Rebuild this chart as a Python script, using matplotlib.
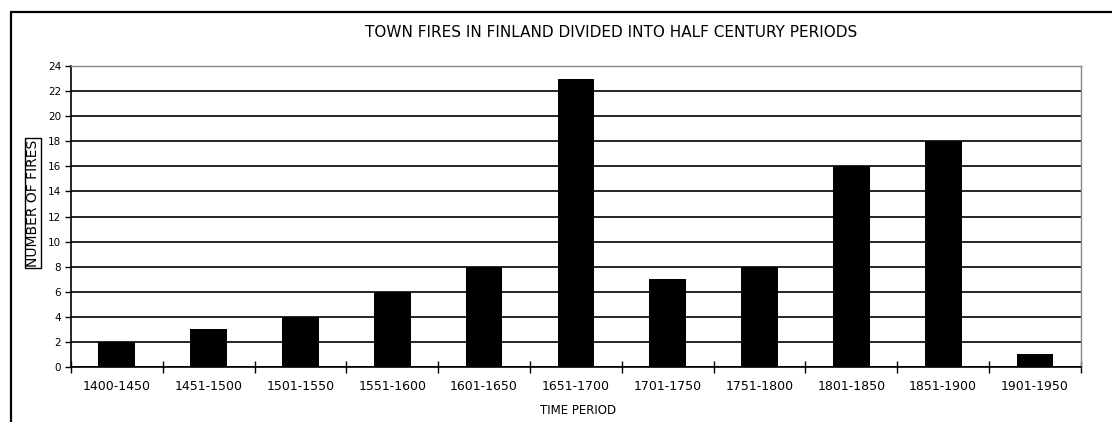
import matplotlib
matplotlib.use('Agg')
from matplotlib import pyplot as plt
from matplotlib.patches import Rectangle

periods = ['1400-1450', '1451-1500', '1501-1550', '1551-1600', '1601-1650', '1651-1700',
           '1701-1750', '1751-1800', '1801-1850', '1851-1900', '1901-1950']
fires = [2, 3, 4, 6, 8, 23, 7, 8, 16, 18, 1]

fig = plt.figure(figsize=(11.12, 4.22), dpi=100)
ax = fig.add_axes([0.0638, 0.1303, 0.9082, 0.7133])

x = list(range(len(periods)))
ax.bar(x, fires, width=0.4, color='black', zorder=3)

ax.set_xlim(-0.5, len(periods) - 0.5)
ax.set_ylim(0, 24)
ax.set_yticks(range(0, 25, 2))
ax.tick_params(axis='y', labelsize=7.5, length=4, width=1, direction='out', pad=3)

# category labels in the middle, ticks on the boundaries between them
ax.set_xticks(x)
ax.set_xticklabels(periods, fontsize=9)
ax.set_xticks([i - 0.5 for i in range(len(periods) + 1)], minor=True)
ax.tick_params(axis='x', which='major', length=0, pad=9)
ax.tick_params(axis='x', which='minor', length=8, width=1, direction='inout')

ax.grid(axis='y', color='black', linewidth=1.2, zorder=1)

for side in ['top', 'right']:
    ax.spines[side].set_color('#888888')
    ax.spines[side].set_linewidth(1)
ax.spines['left'].set_linewidth(1.2)
ax.spines['bottom'].set_linewidth(1.2)

fig.text(0.55, 0.922, 'TOWN FIRES IN FINLAND DIVIDED INTO HALF CENTURY PERIODS',
         fontsize=11, ha='center', va='center')
fig.text(0.52, 0.028, 'TIME PERIOD', fontsize=8.5, ha='center', va='center')
fig.text(0.0297, 0.519, 'NUMBER OF FIRES', fontsize=10, rotation=90, ha='center', va='center',
         bbox=dict(boxstyle='square,pad=0.1', facecolor='white', edgecolor='black', linewidth=1))

# outer frame around the chart
fig.patches.append(Rectangle((0.0099, -0.1), 1.2, 0.1 + 0.9716, transform=fig.transFigure,
                             fill=False, edgecolor='black', linewidth=1.6))

plt.savefig('out.png', dpi=100)
